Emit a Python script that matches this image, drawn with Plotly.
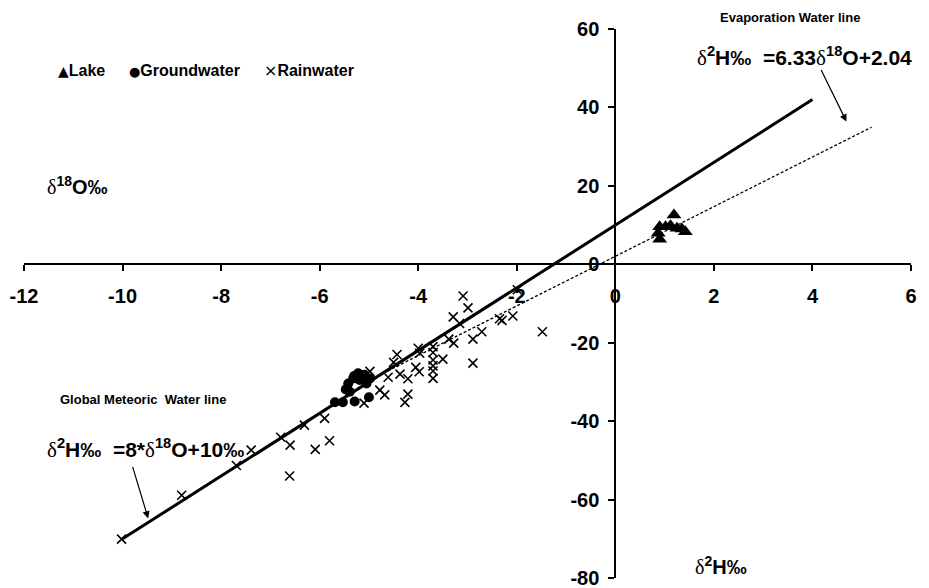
import numpy as np
import plotly.graph_objects as go

# ---- data ----
lake_x = [1.19, 0.90, 1.02, 1.12, 1.25, 1.42, 0.87, 0.90, 1.35]
lake_y = [12.6, 9.6, 9.6, 9.8, 9.2, 8.3, 7.9, 6.4, 9.0]

gw_x = [-5.69, -5.53, -5.29, -5.00, -5.39, -5.47, -5.42, -5.32, -5.22, -5.09, -4.98, -5.19, -5.05, -5.30]
gw_y = [-35.2, -35.2, -35.0, -33.9, -32.5, -31.9, -30.4, -29.1, -27.8, -28.2, -29.1, -29.5, -30.4, -28.5]

rain_x = [-10.02, -8.80, -7.69, -7.39, -6.79, -6.60, -6.61, -6.31, -6.09, -5.80, -5.90, -5.10,
          -4.78, -4.68, -4.21, -4.27, -4.98, -4.43, -4.50, -4.00, -3.97, -4.61, -4.37, -4.21,
          -4.05, -3.98, -3.70, -3.70, -3.70, -3.70, -3.70, -3.70, -3.50, -3.38, -3.28, -3.29,
          -3.16, -3.09, -2.99, -2.89, -2.71, -2.89, -2.35, -2.30, -2.08, -1.99, -1.48]
rain_y = [-70.1, -58.9, -51.3, -47.4, -44.1, -46.1, -54.0, -41.0, -47.2, -45.0, -39.3, -35.4,
          -32.1, -33.3, -33.1, -35.2, -27.3, -23.0, -25.0, -21.4, -22.7, -28.8, -28.0, -29.2,
          -26.3, -27.4, -21.0, -22.5, -24.4, -25.9, -27.2, -29.1, -24.2, -19.1, -20.1, -13.4,
          -15.1, -8.1, -11.1, -19.1, -17.2, -25.2, -13.9, -14.3, -13.2, -6.5, -17.2]

gmwl_x = np.array([-10.0, 4.0])
gmwl_y = 8 * gmwl_x + 10
ewl_x = np.array([-4.8, 5.2])
ewl_y = 6.33 * ewl_x + 2.04

x_ticks = [-12, -10, -8, -6, -4, -2, 0, 2, 4, 6]
x_tick_text = ["-12", "-10", "-8", "-6", "-4", "-2", "0", "2", "4", "6"]
y_ticks = [-80, -60, -40, -20, 0, 20, 40, 60]
y_tick_text = ["-80", "-60", "-40", "-20", "0", "20", "40", "60"]

legend_names = ["Lake", "Groundwater", "Rainwater"]
legend_glyphs = ["▲", "●", "×"]

FONT = "Liberation Sans, Arial, sans-serif"
D = "<span style=\"font-family:'Liberation Serif';font-weight:normal\">δ</span>"

# page body has an 8px margin: shift everything by that amount
OFF = 8
W, H = 929 - OFF, 588 - OFF
L, T = 24 - OFF, 29 - OFF
PW, PH = 887, 549
R = W - L - PW
B = H - T - PH

fig = go.Figure()
fig.add_trace(go.Scatter(x=gmwl_x, y=gmwl_y, mode="lines", line=dict(color="black", width=3),
                         showlegend=False, hoverinfo="skip"))
fig.add_trace(go.Scatter(x=ewl_x, y=ewl_y, mode="lines",
                         line=dict(color="black", width=1.3, dash="3px,2px"),
                         showlegend=False, hoverinfo="skip"))
fig.add_trace(go.Scatter(x=lake_x, y=lake_y, mode="markers", name="Lake", showlegend=False,
                         marker=dict(symbol="triangle-up", size=13, color="black")))
fig.add_trace(go.Scatter(x=gw_x, y=gw_y, mode="markers", name="Groundwater", showlegend=False,
                         marker=dict(symbol="circle", size=10, color="black")))
fig.add_trace(go.Scatter(x=rain_x, y=rain_y, mode="markers", name="Rainwater", showlegend=False,
                         marker=dict(symbol="x-thin", size=9, color="black",
                                     line=dict(color="black", width=1.6))))

axis_common = dict(showgrid=False, zeroline=False, showline=True, linecolor="black", linewidth=2,
                   ticks="outside", ticklen=6, tickwidth=2, tickcolor="black",
                   tickfont=dict(family=FONT, size=20, color="black", weight="bold"),
                   anchor="free", automargin=False, ticklabeloverflow="allow")

fig.update_layout(
    width=W, height=H,
    margin=dict(l=L, r=R, t=T, b=B),
    paper_bgcolor="white", plot_bgcolor="white",
    xaxis=dict(range=[-12, 6], tickvals=x_ticks, ticktext=x_tick_text, position=80 / 140,
               ticklabelstandoff=8, **axis_common),
    yaxis=dict(range=[-80, 60], tickvals=y_ticks, ticktext=y_tick_text, position=12 / 18,
               ticklabelstandoff=5, **axis_common),
    showlegend=False,
    font=dict(family=FONT, color="black"),
)

def px2paper(px, py):
    return (px - 24) / PW, (578 - py) / PH

glyph_styles = [
    "font-family:'DejaVu Sans';font-size:14px",
    "font-family:'DejaVu Sans';font-size:13px",
    "font-family:'DejaVu Sans';font-size:16px;font-weight:normal",
]
legend_px = [56, 127, 262]

texts = [
    ("Evaporation Water line", 790, 18, "center", 13),
    (f"{D}<sup>2</sup>H‰  =6.33{D}<sup>18</sup>O+2.04", 695, 56, "left", 21),
    ("Global Meteoric  Water line", 58, 400, "left", 13),
    (f"{D}<sup>2</sup>H‰  =8*{D}<sup>18</sup>O+10‰", 45, 448, "left", 21),
    (f"{D}<sup>18</sup>O‰", 45, 185, "left", 20),
    (f"{D}<sup>2</sup>H‰", 693, 565, "left", 20),
]
for name, glyph, gst, lx in zip(legend_names, legend_glyphs, glyph_styles, legend_px):
    texts.append((f"<span style=\"{gst}\">{glyph}</span>{name}", lx, 70, "left", 16))

for t, px, py, anc, sz in texts:
    xp, yp = px2paper(px, py)
    fig.add_annotation(text=t, x=xp, y=yp, xref="paper", yref="paper", xanchor=anc,
                       yanchor="middle", showarrow=False,
                       font=dict(family=FONT, size=sz, color="black", weight="bold"))

# arrows
fig.add_annotation(x=4.69, y=36.4, xref="x", yref="y", ax=-26, ay=-53, showarrow=True,
                   arrowhead=2, arrowsize=1.2, arrowwidth=1.2, arrowcolor="black", text="")
fig.add_annotation(x=-9.48, y=-64.8, xref="x", yref="y", ax=-16, ay=-53, showarrow=True,
                   arrowhead=2, arrowsize=1.2, arrowwidth=1.2, arrowcolor="black", text="")

fig.write_html("out.html")
